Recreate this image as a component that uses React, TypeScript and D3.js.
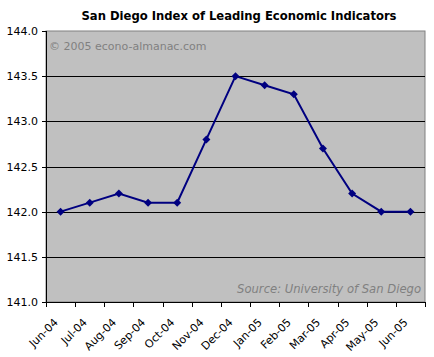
import React from "react";
import * as d3 from "d3";

const categories = ["Jun-04","Jul-04","Aug-04","Sep-04","Oct-04","Nov-04","Dec-04","Jan-05","Feb-05","Mar-05","Apr-05","May-05","Jun-05"];
const values = [142.0,142.1,142.2,142.1,142.1,142.8,143.5,143.4,143.3,142.7,142.2,142.0,142.0];
const yTicks = [141.0,141.5,142.0,142.5,143.0,143.5,144.0];

const W = 434, H = 357;
const L = 46, R = 425, T = 31, B = 302;
const font = "Verdana, 'DejaVu Sans', sans-serif";

export default function App() {
  const x = d3.scaleBand<string>().domain(categories).range([L, R]);
  const y = d3.scaleLinear().domain([141, 144]).range([B, T]);
  const line = d3.line<number>().x((_, i) => x(categories[i])! + x.bandwidth() / 2).y(d => y(d));
  const bounds = categories.map(c => x(c)!).concat([R]);
  return (
    <svg width={W} height={H} style={{ position: "absolute", left: 0, top: 0 }} fontFamily={font}>
      <rect x={0} y={0} width={W} height={H} fill="#fff" />
      <text x={239} y={20} textAnchor="middle" fontSize={11.6} fontWeight="bold" fill="#000">San Diego Index of Leading Economic Indicators</text>
      <rect x={L} y={T} width={R - L} height={B - T} fill="#C0C0C0" stroke="#808080" strokeWidth={1} />
      {yTicks.slice(1, -1).map(t => (
        <line key={t} x1={L} x2={R} y1={Math.round(y(t)) + 0.5} y2={Math.round(y(t)) + 0.5} stroke="#000" strokeWidth={1} />
      ))}
      <text x={49} y={50} fontSize={11} fill="#808080">© 2005 econo-almanac.com</text>
      <text x={421} y={293} fontSize={11.6} fill="#808080" fontStyle="italic" textAnchor="end">Source: University of San Diego</text>
      <line x1={L + 0.5} x2={L + 0.5} y1={T} y2={B} stroke="#000" />
      <line x1={L} x2={R} y1={B + 0.5} y2={B + 0.5} stroke="#000" />
      {yTicks.map(t => (
        <g key={t}>
          <line x1={L - 4} x2={L} y1={Math.round(y(t)) + 0.5} y2={Math.round(y(t)) + 0.5} stroke="#000" />
          <text x={L - 8} y={y(t) + 4} fontSize={11} textAnchor="end" fill="#000">{t.toFixed(1)}</text>
        </g>
      ))}
      {bounds.map((b, i) => (
        <line key={i} x1={Math.round(b) + 0.5} x2={Math.round(b) + 0.5} y1={B} y2={B + 5} stroke="#000" />
      ))}
      {categories.map(c => {
        const cx = x(c)! + x.bandwidth() / 2;
        return (
          <text key={c} transform={`translate(${cx - 2},${B + 21}) rotate(-45)`} fontSize={11} textAnchor="end" fill="#000">{c}</text>
        );
      })}
      <path d={line(values)!} fill="none" stroke="#000080" strokeWidth={2} />
      {values.map((v, i) => {
        const cx = x(categories[i])! + x.bandwidth() / 2, cy = y(v);
        return <path key={i} d={`M${cx},${cy - 4}L${cx + 4},${cy}L${cx},${cy + 4}L${cx - 4},${cy}Z`} fill="#000080" />;
      })}
    </svg>
  );
}
